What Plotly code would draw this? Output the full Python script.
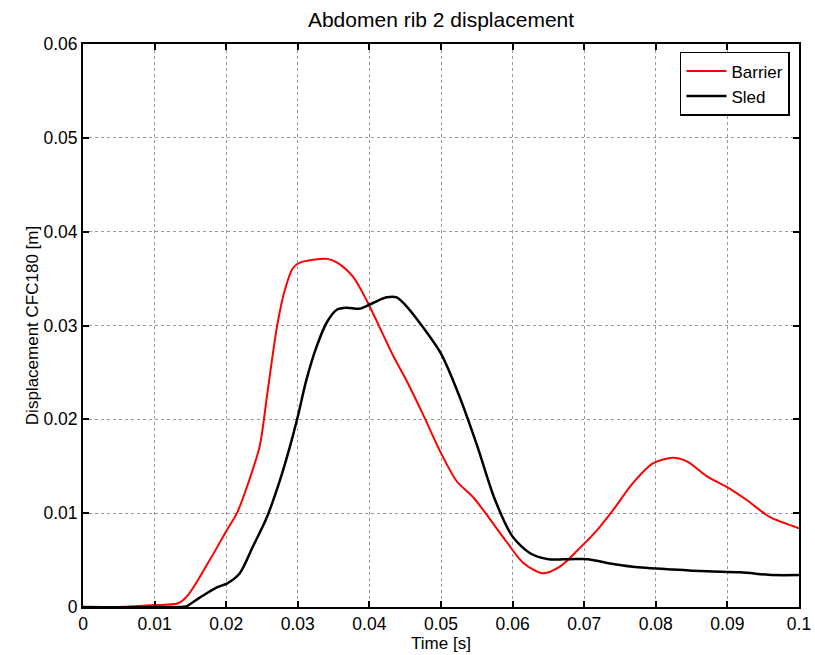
import plotly.graph_objects as go

barrier_t = [0.0, 0.005, 0.010, 0.0133, 0.0147, 0.0177, 0.0201, 0.0215, 0.0233, 0.0247, 0.0257,
             0.0271, 0.0282, 0.0293, 0.0303, 0.0341, 0.0355, 0.0377, 0.0396, 0.0415, 0.0433,
             0.045, 0.0475, 0.050, 0.0522, 0.0545, 0.0568, 0.0592, 0.0615, 0.0642, 0.0666,
             0.0694, 0.0718, 0.074, 0.0768, 0.0796, 0.0824, 0.0844, 0.0872, 0.0899, 0.0927,
             0.0959, 0.1]
barrier_y = [0.0, 0.0, 0.0002, 0.0004, 0.0013, 0.005, 0.0082, 0.0100, 0.0137, 0.0172, 0.0225,
             0.0299, 0.0338, 0.0361, 0.0367, 0.0371, 0.0367, 0.0352, 0.0327, 0.0297, 0.0268,
             0.0244, 0.0205, 0.0164, 0.0134, 0.0117, 0.0094, 0.0069, 0.0047, 0.0036, 0.0043,
             0.0063, 0.0082, 0.0103, 0.0132, 0.0153, 0.0159, 0.0155, 0.0139, 0.0128, 0.0114,
             0.0096, 0.0084]

sled_t = [0.0, 0.0135, 0.0145, 0.0163, 0.0187, 0.0201, 0.0219, 0.0237, 0.0257, 0.0275, 0.0289,
          0.030, 0.0312, 0.0326, 0.0341, 0.0355, 0.0368, 0.0387, 0.0405, 0.0424, 0.0438,
          0.045, 0.0475, 0.050, 0.0525, 0.055, 0.0575, 0.060, 0.0625, 0.065,
          0.068, 0.0705, 0.0732, 0.0768, 0.0824, 0.0872, 0.0918, 0.0964, 0.1]
sled_y = [0.0, 0.0, 0.0001, 0.001, 0.0021, 0.0025, 0.0036, 0.0064, 0.0096, 0.0135, 0.0171,
          0.0203, 0.0242, 0.0277, 0.0304, 0.0317, 0.0319, 0.0318, 0.0324, 0.0330, 0.0330,
          0.0322, 0.0298, 0.0270, 0.0226, 0.0173, 0.0115, 0.0075, 0.0057, 0.0051,
          0.0051, 0.0051, 0.0047, 0.0043, 0.0040, 0.0038, 0.0037, 0.0034, 0.0034]

x_ticks = [0, 0.01, 0.02, 0.03, 0.04, 0.05, 0.06, 0.07, 0.08, 0.09, 0.1]
x_labels = ["0", "0.01", "0.02", "0.03", "0.04", "0.05", "0.06", "0.07", "0.08", "0.09", "0.1"]
y_ticks = [0, 0.01, 0.02, 0.03, 0.04, 0.05, 0.06]
y_labels = ["0", "0.01", "0.02", "0.03", "0.04", "0.05", "0.06"]

FONT = "Liberation Sans, Arial"

fig = go.Figure()
fig.add_trace(go.Scatter(x=barrier_t, y=barrier_y, mode="lines", name="Barrier",
                         line=dict(color="#ff0000", width=2, shape="spline", smoothing=0.8)))
fig.add_trace(go.Scatter(x=sled_t, y=sled_y, mode="lines", name="Sled",
                         line=dict(color="#000000", width=2.5, shape="spline", smoothing=0.8)))

axis_common = dict(showline=True, linecolor="black", linewidth=2, mirror="allticks",
                   ticks="inside", ticklen=6, tickcolor="black", tickwidth=1.5,
                   showgrid=True, gridcolor="#999999", griddash="dot", gridwidth=1,
                   zeroline=False, automargin=False,
                   tickfont=dict(family=FONT, size=17.5, color="black"))

fig.update_xaxes(range=[0, 0.1], tickvals=x_ticks, ticktext=x_labels,
                 title=dict(text="Time [s]", font=dict(family=FONT, size=17, color="black"),
                            standoff=2), **axis_common)
fig.update_yaxes(range=[0, 0.06], tickvals=y_ticks, ticktext=y_labels,
                 title=dict(text="Displacement CFC180 [m]", font=dict(family=FONT, size=17, color="black"),
                            standoff=0), **axis_common)

fig.update_layout(
    width=815, height=655,
    margin=dict(l=83, r=16, t=44, b=48),
    paper_bgcolor="white", plot_bgcolor="white",
    title=dict(text="Abdomen rib 2 displacement", xref="paper", x=0.5, xanchor="center",
               y=1 - 20 / 655, yanchor="middle",
               font=dict(family=FONT, size=21, color="black")),
    legend=dict(x=0.9874, y=0.986, xanchor="right", yanchor="top", bgcolor="white",
                bordercolor="black", borderwidth=1.5,
                font=dict(family=FONT, size=17, color="black"),
                tracegroupgap=0, itemwidth=40),
    showlegend=True,
)

fig.write_html("out.html")
